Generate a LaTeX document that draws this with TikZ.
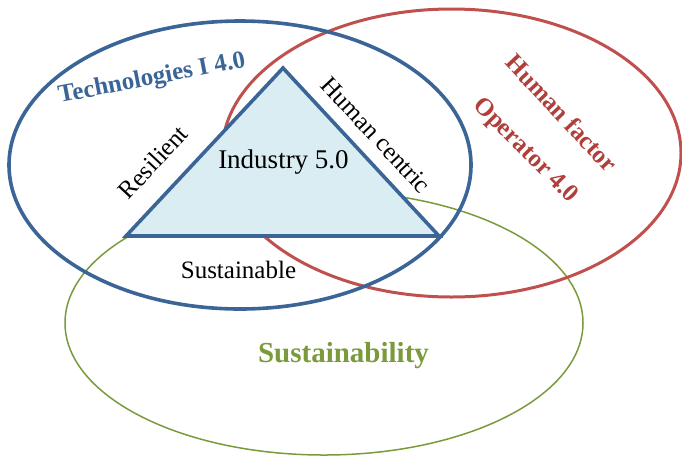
\documentclass[tikz,border=0pt]{standalone}
\usepackage{fontspec}
\setmainfont{Liberation Serif}
\definecolor{cblue}{HTML}{3A6596}
\definecolor{cred}{HTML}{C0504D}
\definecolor{cgreen}{HTML}{7A9A3C}
\definecolor{tfill}{HTML}{DAEDF3}
\definecolor{tred}{HTML}{B03F3C}
\begin{document}
\begin{tikzpicture}[x=1pt,y=-1pt,
  blueline/.style={draw=cblue,line width=3.6pt},
  redline/.style={draw=cred,line width=3pt},
  greenline/.style={draw=cgreen,line width=1.5pt},
  tri/.style={draw=cblue,fill=tfill,line width=3.6pt,line join=miter},
  lbl/.style={inner sep=0pt,text=black,font=\fontsize{25}{30}\selectfont},
  blbl/.style={inner sep=0pt,font=\bfseries\fontsize{25}{30}\selectfont}]
\useasboundingbox (0,0) rectangle (682,459);
\draw[greenline] (324,323) ellipse [x radius=259, y radius=132];
\draw[redline] (451.5,153) ellipse [x radius=229.5, y radius=144];
\coordinate (A) at (283,68);
\coordinate (B) at (126,236);
\coordinate (C) at (439,236);
\draw[tri] (A) -- (B) -- (C) -- cycle;
\draw[blueline] (240,165) ellipse [x radius=231, y radius=144];
\node[blbl,text=cblue,rotate=11] (tech) at (152,79) {Technologies I 4.0};
\node[lbl,rotate=47] (res) at (153,162) {Resilient};
\node[lbl,rotate=-47] (hc) at (376,135) {Human centric};
\node[lbl,anchor=base,font=\fontsize{27}{32}\selectfont] (ind) at (283.5,168) {Industry 5.0};
\node[lbl,anchor=base] (sust) at (238.5,278) {Sustainable};
\node[blbl,text=tred,rotate=-47] (hf) at (562,113) {Human factor};
\node[blbl,text=tred,rotate=-45] (op) at (525,151) {Operator 4.0};
\node[blbl,text=cgreen,anchor=base,font=\bfseries\fontsize{29}{34}\selectfont] (sty) at (343.5,362) {Sustainability};
\end{tikzpicture}
\end{document}
